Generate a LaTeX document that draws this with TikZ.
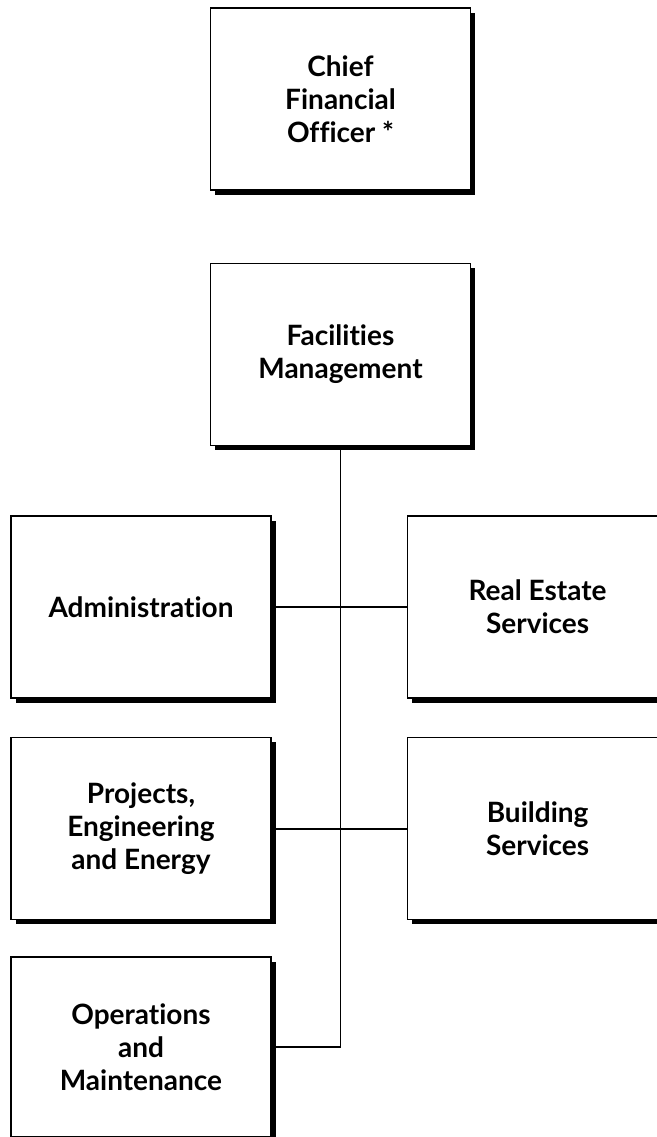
\documentclass[tikz,border=0pt]{standalone}
\usepackage{fontspec}
\setmainfont{Lato}[Ligatures=NoCommon]
\usepackage{tikz}
\usetikzlibrary{positioning,shadows}

\begin{document}
\begin{tikzpicture}[
  x=0.5pt, y=-0.5pt,
  font=\bfseries\fontsize{14}{16.5}\selectfont,
  unit/.style={draw, line width=0.8pt, fill=white, inner sep=0pt,
               minimum width=130pt, minimum height=91pt, align=center,
               drop shadow={shadow xshift=2.3pt, shadow yshift=-2.3pt,
                            fill=black, opacity=1}},
  link/.style={line width=0.9pt},
  ]
  \clip (0,0) rectangle (657,1137);
  \node[unit] (cfo) at (340.5,99) {Chief\\ Financial\\ Officer *};
  \node[unit, below=36pt of cfo] (fm) {Facilities\\ Management};
  \node[unit] (admin) at (141,607) {Administration};
  \node[unit, right=67.5pt of admin] (res) {Real Estate\\ Services};
  \node[unit, below=19pt of admin] (pee) {Projects,\\ Engineering\\ and Energy};
  \node[unit, right=67.5pt of pee] (bldg) {Building\\ Services};
  \node[unit, below=18pt of pee, minimum height=90pt] (ops) {Operations\\ and\\ Maintenance};

  \draw[link] (fm.south) |- (ops.east);
  \draw[link] (admin.east) -- (res.west);
  \draw[link] (pee.east) -- (bldg.west);
\end{tikzpicture}
\end{document}
